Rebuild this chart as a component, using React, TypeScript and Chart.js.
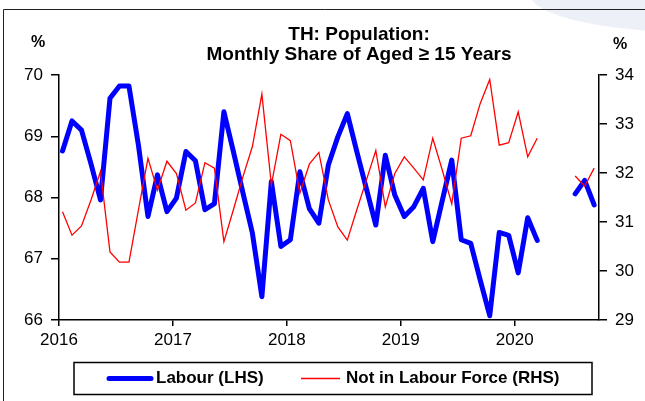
import React, { useEffect, useRef } from 'react';
import { Chart, registerables } from 'chart.js';

Chart.register(...registerables);

const FONT = "'Liberation Sans', Arial, sans-serif";

const titleLines = ['TH: Population:', 'Monthly Share of Aged \u2265 15 Years'];
const leftUnit = '%';
const rightUnit = '%';

const months = [
  '2016-01', '2016-02', '2016-03', '2016-04', '2016-05', '2016-06', '2016-07', '2016-08', '2016-09', '2016-10', '2016-11', '2016-12',
  '2017-01', '2017-02', '2017-03', '2017-04', '2017-05', '2017-06', '2017-07', '2017-08', '2017-09', '2017-10', '2017-11', '2017-12',
  '2018-01', '2018-02', '2018-03', '2018-04', '2018-05', '2018-06', '2018-07', '2018-08', '2018-09', '2018-10', '2018-11', '2018-12',
  '2019-01', '2019-02', '2019-03', '2019-04', '2019-05', '2019-06', '2019-07', '2019-08', '2019-09', '2019-10', '2019-11', '2019-12',
  '2020-01', '2020-02', '2020-03', '2020-04', '2020-05', '2020-06', '2020-07', '2020-08', '2020-09',
];

const yearLabels = ['2016', '2017', '2018', '2019', '2020'];

const labour = [
  68.76, 69.25, 69.10, 68.55, 67.96, 69.62, 69.82, 69.82, 68.85, 67.69, 68.37, 67.77,
  67.99, 68.75, 68.60, 67.80, 67.90, 69.40, 68.75, 68.08, 67.42, 66.38, 68.26, 67.20,
  67.31, 68.42, 67.82, 67.58, 68.53, 68.99, 69.37, 68.75, 68.15, 67.55, 68.69, 68.04,
  67.69, 67.85, 68.15, 67.28, 67.95, 68.61, 67.31, 67.25, 66.65, 66.07, 67.43, 67.38,
  66.77, 67.67, 67.30, null, null, null, 68.06, 68.28, 67.88,
];

const notInLabourForce = [
  31.21, 30.73, 30.92, 31.45, 32.03, 30.39, 30.18, 30.18, 31.25, 32.30, 31.65, 32.24,
  31.99, 31.24, 31.39, 32.21, 32.10, 30.60, 31.25, 31.92, 32.54, 33.61, 31.76, 32.79,
  32.66, 31.59, 32.18, 32.42, 31.45, 30.90, 30.63, 31.25, 31.85, 32.46, 31.31, 31.99,
  32.33, 32.10, 31.86, 32.71, 32.06, 31.37, 32.71, 32.76, 33.42, 33.91, 32.57, 32.62,
  33.25, 32.33, 32.71, null, null, null, 31.94, 31.73, 32.10,
];

const seriesNames = ['Labour (LHS)', 'Not in Labour Force (RHS)'];
const seriesColors = ['#0000ff', '#ff0000'];
const seriesWidths = [5, 1.3];

// month position on a continuous axis: 0 = start of Jan 2016, points sit inside their month
const monthPos = (m: string) => {
  const [y, mo] = m.split('-').map(Number);
  return (y - 2016) * 12 + (mo - 1) + 0.37;
};

const toPoints = (vals: (number | null)[]) =>
  months.map((m, i) => ({ x: monthPos(m), y: vals[i] }));

const decorPlugin = {
  id: 'decor',
  beforeDraw(chart: any) {
    const ctx = chart.ctx;
    ctx.save();
    ctx.fillStyle = '#ffffff';
    ctx.fillRect(0, 0, chart.width, chart.height);
    // faint background shape, top right
    ctx.fillStyle = '#eef0f7';
    ctx.beginPath();
    ctx.ellipse(690, -6, 160, 38, 0, 0, Math.PI * 2);
    ctx.fill();
    // outer frame
    ctx.strokeStyle = '#222';
    ctx.lineWidth = 1;
    ctx.beginPath();
    ctx.moveTo(3.5, chart.height + 2);
    ctx.lineTo(3.5, 9.5);
    ctx.lineTo(chart.width + 2, 9.5);
    ctx.stroke();
    ctx.restore();
  },
  afterDraw(chart: any) {
    const ctx = chart.ctx;
    ctx.save();
    ctx.fillStyle = '#000';
    ctx.textAlign = 'center';
    ctx.textBaseline = 'middle';
    ctx.font = `bold 19px ${FONT}`;
    ctx.fillText(titleLines[0], 359, 35);
    ctx.fillText(titleLines[1], 359, 55);
    ctx.font = `bold 16px ${FONT}`;
    ctx.fillText(leftUnit, 38, 43);
    ctx.fillText(rightUnit, 620, 45);

    // legend
    ctx.strokeStyle = '#000';
    ctx.lineWidth = 1.5;
    ctx.strokeRect(74, 362.5, 518, 32);
    const ly = 378.5;
    const items = [
      { x0: 109, x1: 151, tx: 156 },
      { x0: 301, x1: 340, tx: 346 },
    ];
    ctx.font = `bold 17px ${FONT}`;
    ctx.textAlign = 'left';
    items.forEach((it, i) => {
      ctx.strokeStyle = seriesColors[i];
      ctx.lineWidth = seriesWidths[i];
      ctx.lineCap = i === 0 ? 'round' : 'butt';
      ctx.beginPath();
      ctx.moveTo(it.x0, ly);
      ctx.lineTo(it.x1, ly);
      ctx.stroke();
      ctx.fillStyle = '#000';
      ctx.fillText(seriesNames[i], it.tx, ly);
    });
    ctx.restore();
  },
};

export default function App() {
  const canvasRef = useRef<HTMLCanvasElement | null>(null);

  useEffect(() => {
    if (!canvasRef.current) return;
    const tickFont = { family: FONT, size: 17 };
    const chart = new Chart(canvasRef.current, {
      type: 'line',
      data: {
        datasets: [
          {
            label: seriesNames[0],
            data: toPoints(labour),
            borderColor: seriesColors[0],
            backgroundColor: seriesColors[0],
            borderWidth: seriesWidths[0],
            borderJoinStyle: 'round',
            borderCapStyle: 'round',
            pointRadius: 0,
            tension: 0,
            spanGaps: false,
            yAxisID: 'y',
            order: 2,
          },
          {
            label: seriesNames[1],
            data: toPoints(notInLabourForce),
            borderColor: seriesColors[1],
            backgroundColor: seriesColors[1],
            borderWidth: seriesWidths[1],
            pointRadius: 0,
            tension: 0,
            spanGaps: false,
            yAxisID: 'y1',
            order: 1,
          },
        ],
      },
      options: {
        responsive: false,
        animation: false,
        devicePixelRatio: 1,
        layout: { padding: { left: 0, right: 0, top: 75, bottom: 51 } },
        plugins: {
          title: { display: false },
          tooltip: { enabled: false },
          legend: { display: false },
        },
        scales: {
          x: {
            type: 'linear',
            min: 0,
            max: 56.88,
            afterBuildTicks: (scale: any) => {
              scale.ticks = yearLabels.map((_, k) => ({ value: k * 12 }));
            },
            afterFit: (scale: any) => {
              scale.height = 30;
            },
            ticks: {
              autoSkip: false,
              maxRotation: 0,
              padding: 4,
              color: '#000',
              font: tickFont,
              callback: (v: any) => yearLabels[Math.round(Number(v) / 12)] ?? '',
            },
            grid: { display: true, drawOnChartArea: false, drawTicks: true, tickLength: 6, color: '#000', lineWidth: 1.5 },
            border: { display: true, color: '#000', width: 1.5 },
          },
          y: {
            position: 'left',
            min: 66,
            max: 70,
            afterFit: (scale: any) => {
              scale.width = 59;
            },
            ticks: { stepSize: 1, padding: 8, color: '#000', font: tickFont },
            grid: { display: true, drawOnChartArea: false, drawTicks: true, tickLength: 8, color: '#000', lineWidth: 1.5 },
            border: { display: true, color: '#000', width: 1.5 },
          },
          y1: {
            position: 'right',
            min: 29,
            max: 34,
            afterFit: (scale: any) => {
              scale.width = 46;
            },
            ticks: { stepSize: 1, padding: 8, color: '#000', font: tickFont },
            grid: { display: true, drawOnChartArea: false, drawTicks: true, tickLength: 8, color: '#000', lineWidth: 1.5 },
            border: { display: true, color: '#000', width: 1.5 },
          },
        },
      },
      plugins: [decorPlugin],
    } as any);
    return () => chart.destroy();
  }, []);

  return (
    <div style={{ position: 'absolute', left: 0, top: 0, width: 645, height: 401, background: '#fff' }}>
      <canvas ref={canvasRef} width={645} height={401} style={{ display: 'block', width: 645, height: 401 }} />
    </div>
  );
}
